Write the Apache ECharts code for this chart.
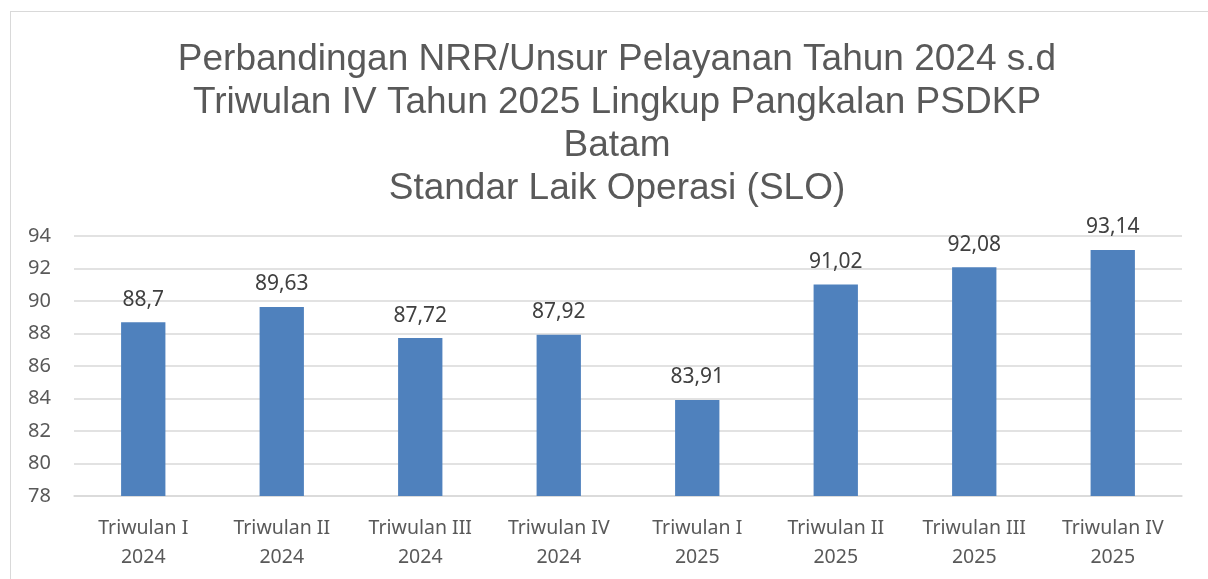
<!DOCTYPE html>
<html>
<head>
<meta charset="utf-8">
<script src="https://cdn.jsdelivr.net/npm/echarts@6/dist/echarts.min.js"></script>
<style>
  html, body { margin: 0; padding: 0; background: #fff; }
  #frame { position: absolute; left: 10px; top: 11px; width: 1240px; height: 620px; border: 1px solid #d9d9d9; }
  #chart { position: absolute; left: 0; top: 0; width: 1208px; height: 579px; }
</style>
</head>
<body>
<div id="frame"></div>
<div id="chart"></div>
<script>
const categories = [
  "Triwulan I\n2024", "Triwulan II\n2024", "Triwulan III\n2024", "Triwulan IV\n2024",
  "Triwulan I\n2025", "Triwulan II\n2025", "Triwulan III\n2025", "Triwulan IV\n2025"
];
const values = [88.7, 89.63, 87.72, 87.92, 83.91, 91.02, 92.08, 93.14];
const titleText = "Perbandingan NRR/Unsur Pelayanan Tahun 2024 s.d\nTriwulan IV Tahun 2025 Lingkup Pangkalan PSDKP\nBatam\nStandar Laik Operasi (SLO)";

let myChart = echarts.init(document.getElementById("chart"));
myChart.setOption({
  animation: false,
  title: {
    text: titleText,
    left: 612,
    top: 33,
    textAlign: "center",
    textStyle: {
      fontFamily: "Liberation Sans",
      fontSize: 37,
      fontWeight: "normal",
      color: "#595959",
      lineHeight: 43
    }
  },
  grid: { left: 74, right: 26, top: 236, bottom: 83, containLabel: false },
  xAxis: {
    type: "category",
    data: categories,
    axisLine: { lineStyle: { color: "#d9d9d9", width: 1.5 } },
    axisTick: { show: false },
    axisLabel: {
      fontFamily: "Noto Sans",
      fontSize: 19.5,
      color: "#595959",
      lineHeight: 29,
      margin: 18
    }
  },
  yAxis: {
    type: "value",
    min: 78,
    max: 94,
    interval: 2,
    axisLine: { show: false },
    axisTick: { show: false },
    splitLine: { lineStyle: { color: "#d9d9d9", width: 1.5 } },
    axisLabel: {
      fontFamily: "Noto Sans",
      fontSize: 20,
      color: "#595959",
      margin: 23
    }
  },
  series: [
    {
      type: "bar",
      data: values,
      barWidth: "32%",
      itemStyle: { color: "#4f81bd" },
      label: {
        show: true,
        position: "top",
        distance: 12,
        fontFamily: "Noto Sans",
        fontSize: 21,
        color: "#404040",
        formatter: p => String(p.value).replace(".", ",")
      }
    }
  ]
});
</script>
</body>
</html>
